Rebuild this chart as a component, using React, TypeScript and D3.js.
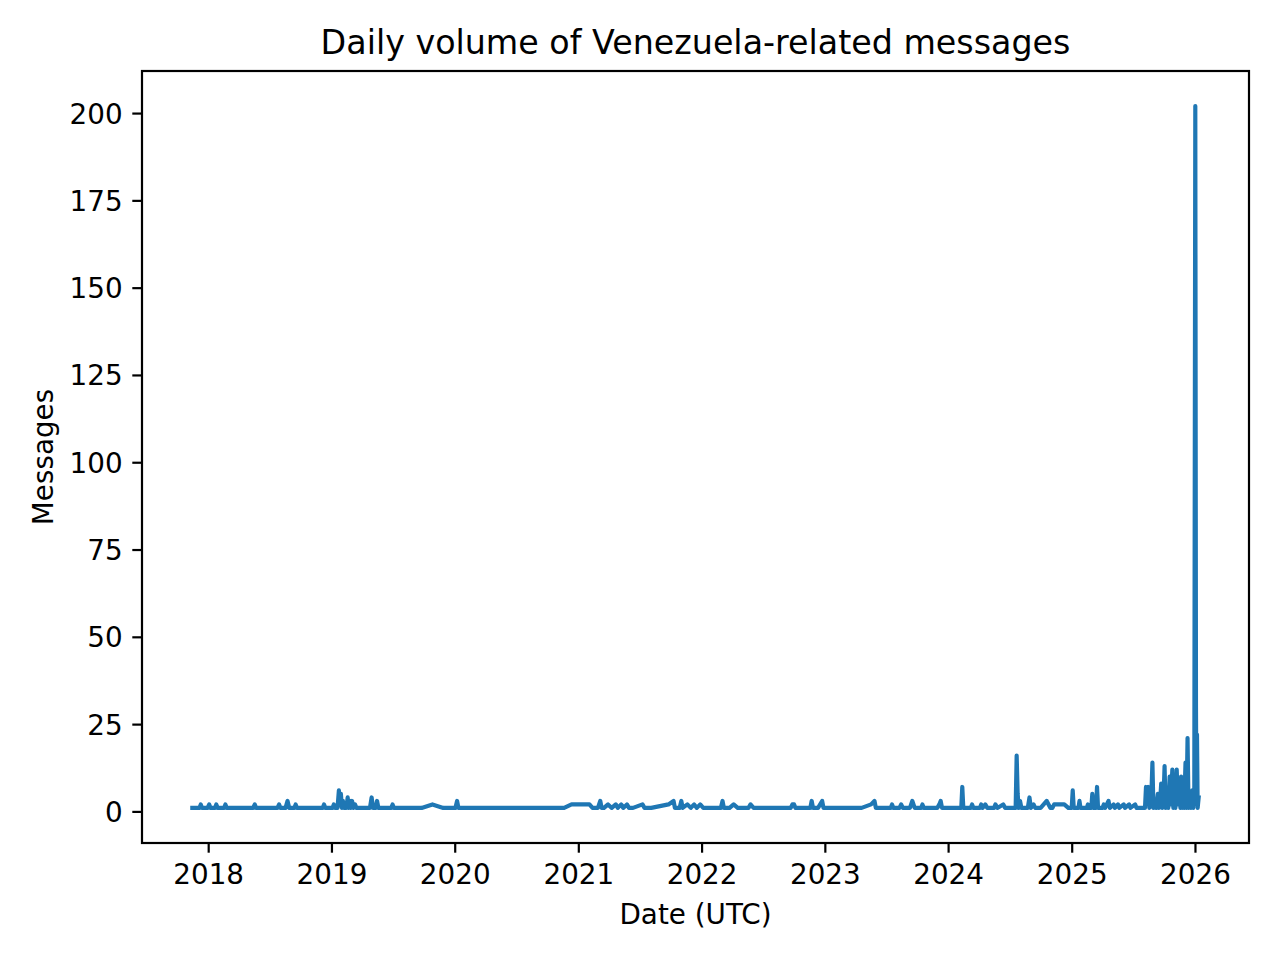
import * as d3 from "d3";
import { useEffect, useRef } from "react";

// days with at least one message, and the count on that day
const dates = [
  "2017-11-15", "2017-12-06", "2017-12-10", "2017-12-14", "2017-12-30", "2018-01-04", "2018-01-08",
  "2018-01-21", "2018-01-25", "2018-01-29", "2018-02-17", "2018-02-21", "2018-02-25",
  "2018-05-14", "2018-05-19", "2018-05-23", "2018-07-25", "2018-07-30", "2018-08-03",
  "2018-08-18", "2018-08-24", "2018-08-29", "2018-09-13", "2018-09-17", "2018-09-21",
  "2018-12-06", "2018-12-10", "2018-12-14",
  "2019-01-04", "2019-01-08", "2019-01-12", "2019-01-19", "2019-01-23", "2019-01-26", "2019-01-29",
  "2019-02-01", "2019-02-04", "2019-02-07", "2019-02-14", "2019-02-18", "2019-02-21", "2019-02-24",
  "2019-02-27", "2019-03-03", "2019-03-07", "2019-03-12", "2019-03-16",
  "2019-04-25", "2019-04-30", "2019-05-04", "2019-05-12", "2019-05-16", "2019-05-20",
  "2019-06-27", "2019-07-01", "2019-07-05", "2019-09-25", "2019-10-27", "2019-11-28",
  "2020-01-03", "2020-01-08", "2020-01-12",
  "2020-11-20", "2020-12-12", "2021-02-03", "2021-02-12",
  "2021-02-28", "2021-03-07", "2021-03-11", "2021-03-18", "2021-03-30", "2021-04-10", "2021-04-22",
  "2021-04-28", "2021-05-08", "2021-05-14", "2021-05-25", "2021-05-31", "2021-06-12", "2021-07-10",
  "2021-07-16", "2021-08-05", "2021-09-25", "2021-10-10", "2021-10-14", "2021-10-28", "2021-11-02",
  "2021-11-06", "2021-11-20", "2021-11-30", "2021-12-10", "2021-12-18", "2021-12-28", "2022-01-06",
  "2022-02-27", "2022-03-04", "2022-03-08", "2022-03-25", "2022-04-06", "2022-04-18",
  "2022-05-20", "2022-05-26", "2022-06-04",
  "2022-09-22", "2022-09-27", "2022-10-02", "2022-10-06", "2022-11-19", "2022-11-23", "2022-11-27",
  "2022-12-12", "2022-12-24", "2022-12-28",
  "2023-04-20", "2023-05-18", "2023-05-28", "2023-06-01", "2023-07-15", "2023-07-19", "2023-07-23",
  "2023-08-10", "2023-08-15", "2023-08-20", "2023-09-10", "2023-09-17", "2023-09-24",
  "2023-10-13", "2023-10-17", "2023-10-21", "2023-11-30", "2023-12-06", "2023-12-10", "2023-12-14",
  "2024-02-09", "2024-02-12", "2024-02-15", "2024-03-08", "2024-03-12", "2024-03-16",
  "2024-04-04", "2024-04-08", "2024-04-12", "2024-04-20", "2024-04-26", "2024-05-16", "2024-05-20",
  "2024-05-26", "2024-06-12", "2024-06-18",
  "2024-07-19", "2024-07-22", "2024-07-25", "2024-07-28", "2024-08-01", "2024-08-05",
  "2024-08-24", "2024-08-29", "2024-09-02", "2024-09-10", "2024-09-15",
  "2024-10-01", "2024-10-19", "2024-10-30", "2024-11-05", "2024-11-10", "2024-12-10", "2024-12-22",
  "2025-01-01", "2025-01-04", "2025-01-07", "2025-01-21", "2025-01-24", "2025-01-27",
  "2025-02-15", "2025-02-18", "2025-02-21", "2025-02-28", "2025-03-03", "2025-03-06",
  "2025-03-14", "2025-03-17", "2025-03-20", "2025-04-02", "2025-04-06", "2025-04-10",
  "2025-04-20", "2025-04-24", "2025-05-05", "2025-05-09", "2025-05-18", "2025-05-22",
  "2025-06-04", "2025-06-08", "2025-06-20", "2025-06-24", "2025-07-08", "2025-07-12",
  "2025-07-25", "2025-08-06", "2025-08-09", "2025-08-12", "2025-08-16", "2025-08-19", "2025-08-24",
  "2025-08-28", "2025-08-31", "2025-09-04", "2025-09-08", "2025-09-13", "2025-09-16", "2025-09-20",
  "2025-09-23", "2025-09-26", "2025-09-30", "2025-10-03", "2025-10-06", "2025-10-11", "2025-10-14",
  "2025-10-18", "2025-10-21", "2025-10-26", "2025-10-29", "2025-11-01", "2025-11-04", "2025-11-08",
  "2025-11-11", "2025-11-16", "2025-11-19", "2025-11-21", "2025-11-24", "2025-11-26", "2025-11-30",
  "2025-12-04", "2025-12-07", "2025-12-10", "2025-12-13", "2025-12-17", "2025-12-20", "2025-12-24",
  "2025-12-27", "2025-12-30", "2026-01-02", "2026-01-04", "2026-01-05", "2026-01-07", "2026-01-09",
  "2026-01-12",
];

const counts = [
  1, 1, 2, 1, 1, 2, 1,
  1, 2, 1, 1, 2, 1,
  1, 2, 1, 1, 2, 1,
  1, 3, 1, 1, 2, 1,
  1, 2, 1,
  1, 2, 1, 1, 6, 2, 5,
  1, 3, 1, 1, 4, 1, 3,
  1, 3, 1, 2, 1,
  1, 4, 1, 1, 3, 1,
  1, 2, 1, 1, 2, 1,
  1, 3, 1,
  1, 2, 2, 1,
  1, 3, 1, 1, 2, 1, 2,
  1, 2, 1, 2, 1, 1, 2,
  1, 1, 2, 3, 1, 1, 3,
  1, 2, 1, 2, 1, 2, 1,
  1, 3, 1, 1, 2, 1,
  1, 2, 1,
  1, 2, 2, 1, 1, 3, 1,
  1, 3, 1,
  1, 2, 3, 1, 1, 2, 1,
  1, 2, 1, 1, 3, 1,
  1, 2, 1, 1, 2, 3, 1,
  1, 7, 1, 1, 2, 1,
  1, 2, 1, 2, 1, 1, 2,
  1, 2, 1,
  1, 16, 5, 1, 3, 1,
  1, 4, 1, 2, 1,
  1, 3, 1, 1, 2, 2, 1,
  1, 6, 1, 1, 3, 1,
  1, 2, 1, 1, 5, 1,
  1, 7, 1, 1, 2, 1,
  3, 1, 2, 1, 2, 1,
  2, 1, 2, 1, 2, 1,
  1, 1, 7, 3, 7, 1, 2,
  14, 1, 3, 1, 5, 1, 3,
  8, 1, 4, 13, 1, 5, 1,
  10, 2, 12, 1, 4, 1, 12,
  2, 9, 1, 10, 1, 3, 1,
  14, 1, 21, 1, 3, 1, 6,
  1, 5, 202, 30, 9, 22, 1,
  4,
];

const yTicks = [0, 25, 50, 75, 100, 125, 150, 175, 200];

const W = 1280, H = 960;
const left = 142, right = 1249, top = 71, bottom = 843;
const font = "DejaVu Sans";
const blue = "#1f77b4";

const App = () => {
  const svgRef = useRef<SVGSVGElement | null>(null);

  useEffect(() => {
    const svg = d3.select(svgRef.current);
    svg.selectAll("*").remove();

    const parse = d3.utcParse("%Y-%m-%d");
    const data = dates.map((d, i) => ({ date: parse(d) as Date, n: counts[i] }));

    // matplotlib style 5% margins on both axes
    const [t0, t1] = d3.extent(data, d => d.date) as [Date, Date];
    const padT = (+t1 - +t0) * 0.05;
    const x = d3.scaleUtc()
      .domain([new Date(+t0 - padT), new Date(+t1 + padT)])
      .range([left, right]);

    const [v0, v1] = d3.extent(data, d => d.n) as [number, number];
    const padV = (v1 - v0) * 0.05;
    const y = d3.scaleLinear().domain([v0 - padV, v1 + padV]).range([bottom, top]);

    const line = d3.line<{ date: Date; n: number }>()
      .x(d => x(d.date))
      .y(d => y(d.n));

    svg.append("defs").append("clipPath").attr("id", "plotclip")
      .append("rect").attr("x", left).attr("y", top)
      .attr("width", right - left).attr("height", bottom - top);

    svg.append("path")
      .datum(data)
      .attr("clip-path", "url(#plotclip)")
      .attr("fill", "none")
      .attr("stroke", blue)
      .attr("stroke-width", 4.17)
      .attr("stroke-linejoin", "round")
      .attr("stroke-linecap", "square")
      .attr("d", line);

    // x axis
    const xAxis = svg.append("g")
      .attr("transform", `translate(0,${bottom})`)
      .call(d3.axisBottom(x)
        .ticks(d3.utcYear.every(1))
        .tickFormat(d3.utcFormat("%Y") as any)
        .tickSize(9.7)
        .tickSizeOuter(0)
        .tickPadding(9.7));
    xAxis.select(".domain").remove();
    xAxis.selectAll("line").attr("stroke", "#000").attr("stroke-width", 2.2);
    xAxis.selectAll("text")
      .attr("fill", "#000")
      .attr("dy", "0.76em")
      .style("font-family", font)
      .style("font-size", "27.8px");

    // y axis
    const yAxis = svg.append("g")
      .attr("transform", `translate(${left},0)`)
      .call(d3.axisLeft(y)
        .tickValues(yTicks)
        .tickSize(9.7)
        .tickSizeOuter(0)
        .tickPadding(9.7));
    yAxis.select(".domain").remove();
    yAxis.selectAll("line").attr("stroke", "#000").attr("stroke-width", 2.2);
    yAxis.selectAll("text")
      .attr("fill", "#000")
      .attr("dy", "0.36em")
      .style("font-family", font)
      .style("font-size", "27.8px");

    // frame
    svg.append("rect")
      .attr("x", left).attr("y", top)
      .attr("width", right - left).attr("height", bottom - top)
      .attr("fill", "none")
      .attr("stroke", "#000")
      .attr("stroke-width", 2.2);

    svg.append("text")
      .attr("x", (left + right) / 2).attr("y", 54)
      .attr("text-anchor", "middle")
      .style("font-family", font)
      .style("font-size", "33.3px")
      .text("Daily volume of Venezuela-related messages");

    svg.append("text")
      .attr("x", (left + right) / 2).attr("y", 924)
      .attr("text-anchor", "middle")
      .style("font-family", font)
      .style("font-size", "27.8px")
      .text("Date (UTC)");

    svg.append("text")
      .attr("transform", `translate(53,${(top + bottom) / 2}) rotate(-90)`)
      .attr("text-anchor", "middle")
      .style("font-family", font)
      .style("font-size", "27.8px")
      .text("Messages");
  }, []);

  return (
    <svg
      ref={svgRef}
      width={W}
      height={H}
      style={{ position: "absolute", left: 0, top: 0, background: "#fff" }}
    />
  );
};

export default App;
